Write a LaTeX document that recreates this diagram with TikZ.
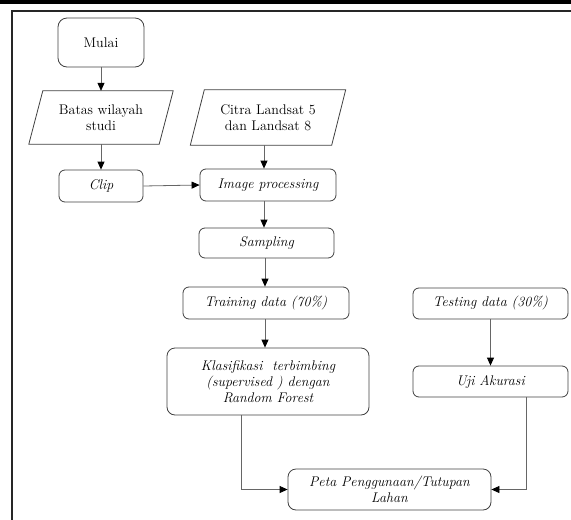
\documentclass[tikz,border=0pt]{standalone}
\usepackage{fontspec}
\usetikzlibrary{arrows.meta}
\begin{document}
\begin{tikzpicture}[x=1pt,y=-1pt,
  lbl/.style={font=\fontsize{14}{16}\selectfont, align=center, inner sep=0pt},
  proc/.style={lbl, draw=black!75, line width=0.8pt, rounded corners=6pt},
  iobox/.style={draw=black!75, line width=0.8pt},
  arr/.style={draw=black!60, line width=0.8pt, -{Triangle[length=8pt,width=7pt,color=black]}},
  frameline/.style={draw=black!85, line width=1.8pt},
]
\useasboundingbox (0,0) rectangle (571,520);

% page frame
\fill[black] (0,0) rectangle (571,3.5);
\draw[frameline] (12,521) -- (12,11) -- (572,11);

% start
\node[proc, rounded corners=9pt, minimum width=86pt, minimum height=49pt] (mulai) at (101,42.5) {Mulai};

% inputs (parallelograms)
\node[lbl, minimum width=130pt, minimum height=53pt] (batas) at (101,117.5) {Batas wilayah\\studi};
\draw[iobox] ([xshift=7pt]batas.north west) -- ([xshift=7pt]batas.north east)
  -- ([xshift=-7pt]batas.south east) -- ([xshift=-7pt]batas.south west) -- cycle;

\node[lbl, minimum width=141pt, minimum height=55pt] (citra) at (268,117.5) {Citra Landsat 5\\dan Landsat 8};
\draw[iobox] ([xshift=7pt]citra.north west) -- ([xshift=7pt]citra.north east)
  -- ([xshift=-7pt]citra.south east) -- ([xshift=-7pt]citra.south west) -- cycle;

% processing steps
\node[proc, minimum width=84pt, minimum height=32pt] (clip) at (101,186) {\itshape Clip};
\node[proc, minimum width=136pt, minimum height=32pt] (imgproc) at (268,185) {\itshape Image processing};
\node[proc, minimum width=135pt, minimum height=30pt] (sampling) at (266.5,243) {\itshape Sampling};
\node[proc, minimum width=166pt, minimum height=32pt] (train) at (266,303) {\itshape Training data (70\%)};
\node[proc, rounded corners=8pt, minimum width=202pt, minimum height=67pt] (klas) at (268,381.5)
  {\itshape Klasifikasi\ \ terbimbing\\\itshape (supervised ) dengan\\\itshape Random Forest};
\node[proc, minimum width=155pt, minimum height=31pt] (test) at (490.5,303.5) {\itshape Testing data (30\%)};
\node[proc, minimum width=155pt, minimum height=31pt] (uji) at (490.5,381.5) {\itshape Uji Akurasi};
\node[proc, rounded corners=8pt, minimum width=203pt, minimum height=41pt] (peta) at (389.5,489.5)
  {\itshape Peta Penggunaan/Tutupan\\\itshape Lahan};

% connectors
\draw[arr] (mulai.south) -- (batas.north);
\draw[arr] (batas.south) -- (clip.north);
\draw[arr] (clip.east) -- (imgproc.west);
\draw[arr] ([xshift=-4pt]citra.south) -- ([xshift=-4pt]citra.south |- imgproc.north);
\draw[arr] ([xshift=-4pt]imgproc.south) -- ([xshift=-4pt]imgproc.south |- sampling.north);
\draw[arr] ([xshift=-1.5pt]sampling.south) -- ([xshift=-1.5pt]sampling.south |- train.north);
\draw[arr] ([xshift=-1pt]train.south) -- ([xshift=-1pt]train.south |- klas.north);
\draw[arr] (test.south) -- (uji.north);
\draw[arr] ([xshift=-27pt]klas.south) |- (peta.west);
\draw[arr] ([xshift=36pt]uji.south) |- (peta.east);
\end{tikzpicture}
\end{document}
